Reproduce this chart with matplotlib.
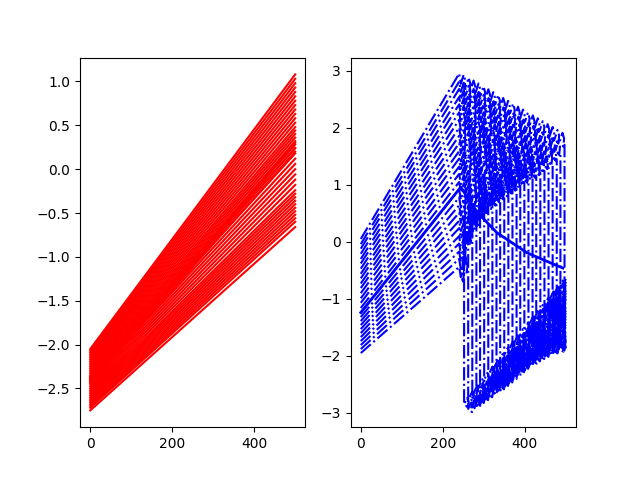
import numpy as np
import matplotlib.pyplot as plt

# left panel: straight red lines, y at x=0 and y at x=500
red_start = [-2.05, -2.07, -2.09, -2.11, -2.13, -2.15, -2.17, -2.19, -2.21, -2.23,
             -2.25, -2.27, -2.29, -2.31, -2.33, -2.35, -2.37, -2.39, -2.41, -2.43,
             -2.36, -2.38, -2.40, -2.42, -2.44, -2.46, -2.48, -2.50, -2.52, -2.54,
             -2.56, -2.58, -2.60, -2.62, -2.64, -2.66, -2.68, -2.70, -2.72, -2.75]
red_end = [1.08, 1.03, 0.98, 0.93, 0.88, 0.83, 0.78, 0.73, 0.68, 0.63,
           0.58, 0.53, 0.48, 0.44, 0.40, 0.36, 0.32, 0.28, 0.24, 0.20,
           0.30, 0.24, 0.18, 0.12, 0.06, 0.00, -0.06, -0.12, -0.18, -0.24,
           -0.28, -0.32, -0.36, -0.40, -0.44, -0.48, -0.52, -0.56, -0.60, -0.66]

# right panel: dash-dot blue lines
blue_start = [-1.95, -1.88, -1.81, -1.74, -1.67, -1.60, -1.53, -1.46, -1.39, -1.32,
              -1.25, -1.16, -1.07, -0.99, -0.90, -0.81, -0.73, -0.64, -0.56, -0.47,
              -0.38, -0.30, -0.21, -0.12, -0.04, 0.05]
blue_peak = [-0.44, -0.30, -0.17, -0.03, 0.10, 0.24, 0.37, 0.51, 0.64, 0.78,
             0.92, 1.05, 1.19, 1.32, 1.46, 1.59, 1.73, 1.86, 2.00, 2.14,
             2.27, 2.41, 2.54, 2.68, 2.81, 2.95]
blue_drop_x = [252, 262, 272, 282, 291, 301, 311, 321, 331, 340,
               350, 360, 370, 380, 389, 399, 409, 419, 428, 438,
               448, 458, 468, 478, 487, 497]
blue_drop_top = [0.40, 0.45, 0.50, 0.55, 0.60, 0.64, 0.68, 0.72, 0.76, 0.80,
                 0.84, 0.88, 0.92, 0.96, 1.00, 1.04, 1.08, 1.12, 1.16, 1.20,
                 1.24, 1.30, 1.36, 1.45, 1.55, 1.70]
blue_drop_bottom = [-2.85, -2.93, -2.88, -2.82, -2.77, -2.72, -2.67, -2.63, -2.59, -2.53,
                    -2.47, -2.41, -2.35, -2.29, -2.23, -2.17, -2.12, -2.08, -2.04, -2.00,
                    -1.96, -1.93, -1.90, -1.87, -1.85, -1.83]
blue_end = [-0.65, -0.70, -0.75, -0.80, -0.85, -0.90, -0.95, -1.00, -1.05, -1.10,
            -1.15, -1.20, -1.25, -1.30, -1.35, -1.40, -1.45, -1.50, -1.55, -1.60,
            -1.65, -1.70, -1.74, -1.78, -1.81, -1.83]

# the solid blue line
solid_x = [0, 244, 280, 332, 405, 450, 493]
solid_y = [-1.24, 0.96, 0.55, 0.16, -0.19, -0.33, -0.46]

# shape of one loop seen along the blue lines
loop_dx = [0, 7, 11, 9, 5]
loop_dy = [0, 0.16, 0.06, -0.08, -0.04]


def wiggle(x0, y0, x1, y1, amp):
    n = max(int((x1 - x0) / 12), 1)
    xs, ys = [], []
    for i in range(n):
        bx = x0 + (x1 - x0) * i / n
        by = y0 + (y1 - y0) * i / n
        w = (x1 - x0) / n / 12
        for dx, dy in zip(loop_dx, loop_dy):
            xs.append(bx + dx * w)
            ys.append(by + dy * amp)
    xs.append(x1)
    ys.append(y1)
    return xs, ys


fig, (ax1, ax2) = plt.subplots(1, 2)

for s, e in zip(red_start, red_end):
    ax1.plot([0, 500], [s, e], 'r-')

for k in range(len(blue_start)):
    j = blue_drop_x[k]
    p = blue_peak[k]
    hx, hy = wiggle(244, p - 0.18, j, blue_drop_top[k], 1.0)
    bx, by = wiggle(j, blue_drop_bottom[k], 500, blue_end[k], 0.7)
    xs = [0, 240] + hx + bx
    ys = [blue_start[k], p] + hy + by
    ax2.plot(xs, ys, 'b-.')

ax2.plot(solid_x, solid_y, 'b-', lw=2)

ax1.set_xticks([0, 200, 400])
ax2.set_xticks([0, 200, 400])
ax2.set_ylim(-3.25, 3.23)

fig.savefig('out.png')
